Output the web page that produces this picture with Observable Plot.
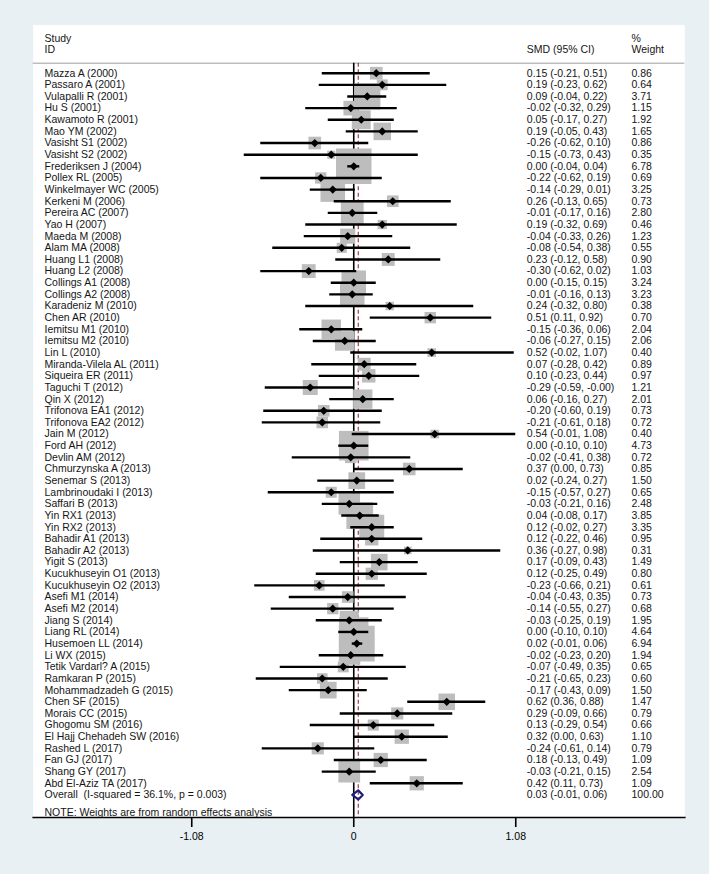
<!DOCTYPE html>
<html><head><meta charset="utf-8">
<script src="https://cdn.jsdelivr.net/npm/d3@7"></script>
<script src="https://cdn.jsdelivr.net/npm/@observablehq/plot@0.6"></script>
<style>
html,body{margin:0;padding:0;background:#e9f0f3;}
svg text{white-space:pre;}
</style></head><body><div id="chart"></div>
<script>
const studies = ["Mazza A (2000)","Passaro A (2001)","Vulapalli R (2001)","Hu S (2001)","Kawamoto R (2001)","Mao YM (2002)","Vasisht S1 (2002)","Vasisht S2 (2002)","Frederiksen J (2004)","Pollex RL (2005)","Winkelmayer WC (2005)","Kerkeni M (2006)","Pereira AC (2007)","Yao H (2007)","Maeda M (2008)","Alam MA (2008)","Huang L1 (2008)","Huang L2 (2008)","Collings A1 (2008)","Collings A2 (2008)","Karadeniz M (2010)","Chen AR (2010)","Iemitsu M1 (2010)","Iemitsu M2 (2010)","Lin L (2010)","Miranda-Vilela AL (2011)","Siqueira ER (2011)","Taguchi T (2012)","Qin X (2012)","Trifonova EA1 (2012)","Trifonova EA2 (2012)","Jain M (2012)","Ford AH (2012)","Devlin AM (2012)","Chmurzynska A (2013)","Senemar S (2013)","Lambrinoudaki I (2013)","Saffari B (2013)","Yin RX1 (2013)","Yin RX2 (2013)","Bahadir A1 (2013)","Bahadir A2 (2013)","Yigit S (2013)","Kucukhuseyin O1 (2013)","Kucukhuseyin O2 (2013)","Asefi M1 (2014)","Asefi M2 (2014)","Jiang S (2014)","Liang RL (2014)","Husemoen LL (2014)","Li WX (2015)","Tetik Vardarl? A (2015)","Ramkaran P (2015)","Mohammadzadeh G (2015)","Chen SF (2015)","Morais CC (2015)","Ghogomu SM (2016)","El Hajj Chehadeh SW (2016)","Rashed L (2017)","Fan GJ (2017)","Shang GY (2017)","Abd El-Aziz TA (2017)"];
const smd = [0.15,0.19,0.09,-0.02,0.05,0.19,-0.26,-0.15,0.00,-0.22,-0.14,0.26,-0.01,0.19,-0.04,-0.08,0.23,-0.30,0.00,-0.01,0.24,0.51,-0.15,-0.06,0.52,0.07,0.10,-0.29,0.06,-0.20,-0.21,0.54,0.00,-0.02,0.37,0.02,-0.15,-0.03,0.04,0.12,0.12,0.36,0.17,0.12,-0.23,-0.04,-0.14,-0.03,0.00,0.02,-0.02,-0.07,-0.21,-0.17,0.62,0.29,0.13,0.32,-0.24,0.18,-0.03,0.42];
const lower = [-0.21,-0.23,-0.04,-0.32,-0.17,-0.05,-0.62,-0.73,-0.04,-0.62,-0.29,-0.13,-0.17,-0.32,-0.33,-0.54,-0.12,-0.62,-0.15,-0.16,-0.32,0.11,-0.36,-0.27,-0.02,-0.28,-0.23,-0.59,-0.16,-0.60,-0.61,-0.01,-0.10,-0.41,0.00,-0.24,-0.57,-0.21,-0.08,-0.02,-0.22,-0.27,-0.09,-0.25,-0.66,-0.43,-0.55,-0.25,-0.10,-0.01,-0.23,-0.49,-0.65,-0.43,0.36,-0.09,-0.29,0.00,-0.61,-0.13,-0.21,0.11];
const upper = [0.51,0.62,0.22,0.29,0.27,0.43,0.10,0.43,0.04,0.19,0.01,0.65,0.16,0.69,0.26,0.38,0.58,0.02,0.15,0.13,0.80,0.92,0.06,0.15,1.07,0.42,0.44,-0,0.27,0.19,0.18,1.08,0.10,0.38,0.73,0.27,0.27,0.16,0.17,0.27,0.46,0.98,0.43,0.49,0.21,0.35,0.27,0.19,0.10,0.06,0.20,0.35,0.23,0.09,0.88,0.66,0.54,0.63,0.14,0.49,0.15,0.73];
const weights = [0.86,0.64,3.71,1.15,1.92,1.65,0.86,0.35,6.78,0.69,3.25,0.73,2.80,0.46,1.23,0.55,0.90,1.03,3.24,3.23,0.38,0.70,2.04,2.06,0.40,0.89,0.97,1.21,2.01,0.73,0.72,0.40,4.73,0.72,0.85,1.50,0.65,2.48,3.85,3.35,0.95,0.31,1.49,0.80,0.61,0.73,0.68,1.95,4.64,6.94,1.94,0.65,0.60,1.50,1.47,0.79,0.66,1.10,0.79,1.09,2.54,1.09];
const overallLabel = "Overall  (I-squared = 36.1%, p = 0.003)";
const overallSmd = 0.03, overallLower = -0.01, overallUpper = 0.06, overallWeight = 100.00;
const noteText = "NOTE: Weights are from random effects analysis";
const headerLeft = ["Study", "ID"];
const headerMid = ["SMD (95% CI)"];
const headerRight = ["%", "Weight"];
const xTicks = [-1.08, 0, 1.08];
const xTickLabels = ["-1.08", "0", "1.08"];

const fmt = v => ((v < 0 || Object.is(v, -0)) ? "-" : "") + Math.abs(v).toFixed(2);
const rows = studies.map((s, i) => ({i, study: s, smd: smd[i], lo: lower[i], hi: upper[i], w: weights[i],
  ci: `${fmt(smd[i])} (${fmt(lower[i])}, ${fmt(upper[i])})`, wt: weights[i].toFixed(2)}));
const ovRow = rows.length;
const overall = [{i: ovRow, study: overallLabel, ci: `${fmt(overallSmd)} (${fmt(overallLower)}, ${fmt(overallUpper)})`, wt: overallWeight.toFixed(2)}];
const dh = 0.39;
const diamond = [[overallLower, 0], [overallSmd, -dh], [overallUpper, 0], [overallSmd, dh], [overallLower, 0]]
  .map(([x, k]) => ({x, y: ovRow + k}));

const yTop = -4.14, yBottom = 63.94, headLine = -0.86;
const textFill = "#151515";
const allText = rows.concat(overall);

const chart = Plot.plot({
  width: 709, height: 874,
  marginLeft: 32.7, marginRight: 24.7, marginTop: 24.5, marginBottom: 57,
  style: {background: "#e9f0f3", fontFamily: "'Liberation Sans', Arial, sans-serif", fontSize: "10.5px", color: "#111"},
  x: {domain: [-2.137, 2.207]},
  y: {domain: [yTop, yBottom], reverse: true, axis: null},
  r: {type: "sqrt", domain: [0, 6.94], range: [0, 20.26]},
  marks: [
    Plot.frame({fill: "white", stroke: "none"}),
    Plot.ruleY([{y: headLine}], {y: "y", stroke: "#bdbdbd", strokeWidth: 1.6}),
    Plot.ruleX([{x: 0, y1: headLine, y2: yBottom}], {x: "x", y1: "y1", y2: "y2", stroke: "black", strokeWidth: 1.6}),
    Plot.ruleX([{x: overallSmd, y1: headLine, y2: yBottom}], {x: "x", y1: "y1", y2: "y2", stroke: "#9b2a36", strokeWidth: 1.1, strokeDasharray: "4,2.5"}),
    Plot.dot(rows, {x: "smd", y: "i", r: "w", symbol: "square", fill: "#bdbdbd"}),
    Plot.ruleY(rows, {x1: "lo", x2: "hi", y: "i", stroke: "black", strokeWidth: 2.4}),
    Plot.dot(rows, {x: "smd", y: "i", r: 3.7, symbol: "diamond2", fill: "black"}),
    Plot.line(diamond, {x: "x", y: "y", stroke: "#1c1c7a", strokeWidth: 2.2, strokeLinejoin: "round"}),
    Plot.text(allText, {y: "i", text: "study", frameAnchor: "left", dx: 11.3, textAnchor: "start", fill: textFill}),
    Plot.text(allText, {y: "i", text: "ci", frameAnchor: "right", dx: -158, textAnchor: "start", fill: textFill}),
    Plot.text(allText, {y: "i", text: "wt", frameAnchor: "right", dx: -53.3, textAnchor: "start", fill: textFill}),
    Plot.text(headerLeft.map((t, k) => ({t, y: -2.98 + k * 0.94})), {y: "y", text: "t", frameAnchor: "left", dx: 11.3, textAnchor: "start", fill: textFill}),
    Plot.text(headerMid.map(t => ({t, y: -2.04})), {y: "y", text: "t", frameAnchor: "right", dx: -158, textAnchor: "start", fill: textFill}),
    Plot.text(headerRight.map((t, k) => ({t, y: -2.98 + k * 0.94})), {y: "y", text: "t", frameAnchor: "right", dx: -53.3, textAnchor: "start", fill: textFill}),
    Plot.text([{t: noteText, y: 63.49}], {y: "y", text: "t", frameAnchor: "left", dx: 11.3, textAnchor: "start", fill: textFill}),
    Plot.axisX({ticks: xTicks, tickFormat: d => xTickLabels[xTicks.indexOf(d)], tickSize: 10, tickPadding: 5, color: "black", strokeWidth: 1.6}),
    Plot.frame({anchor: "bottom", stroke: "black", strokeWidth: 1.6})
  ]
});
document.getElementById("chart").appendChild(chart);
</script></body></html>
